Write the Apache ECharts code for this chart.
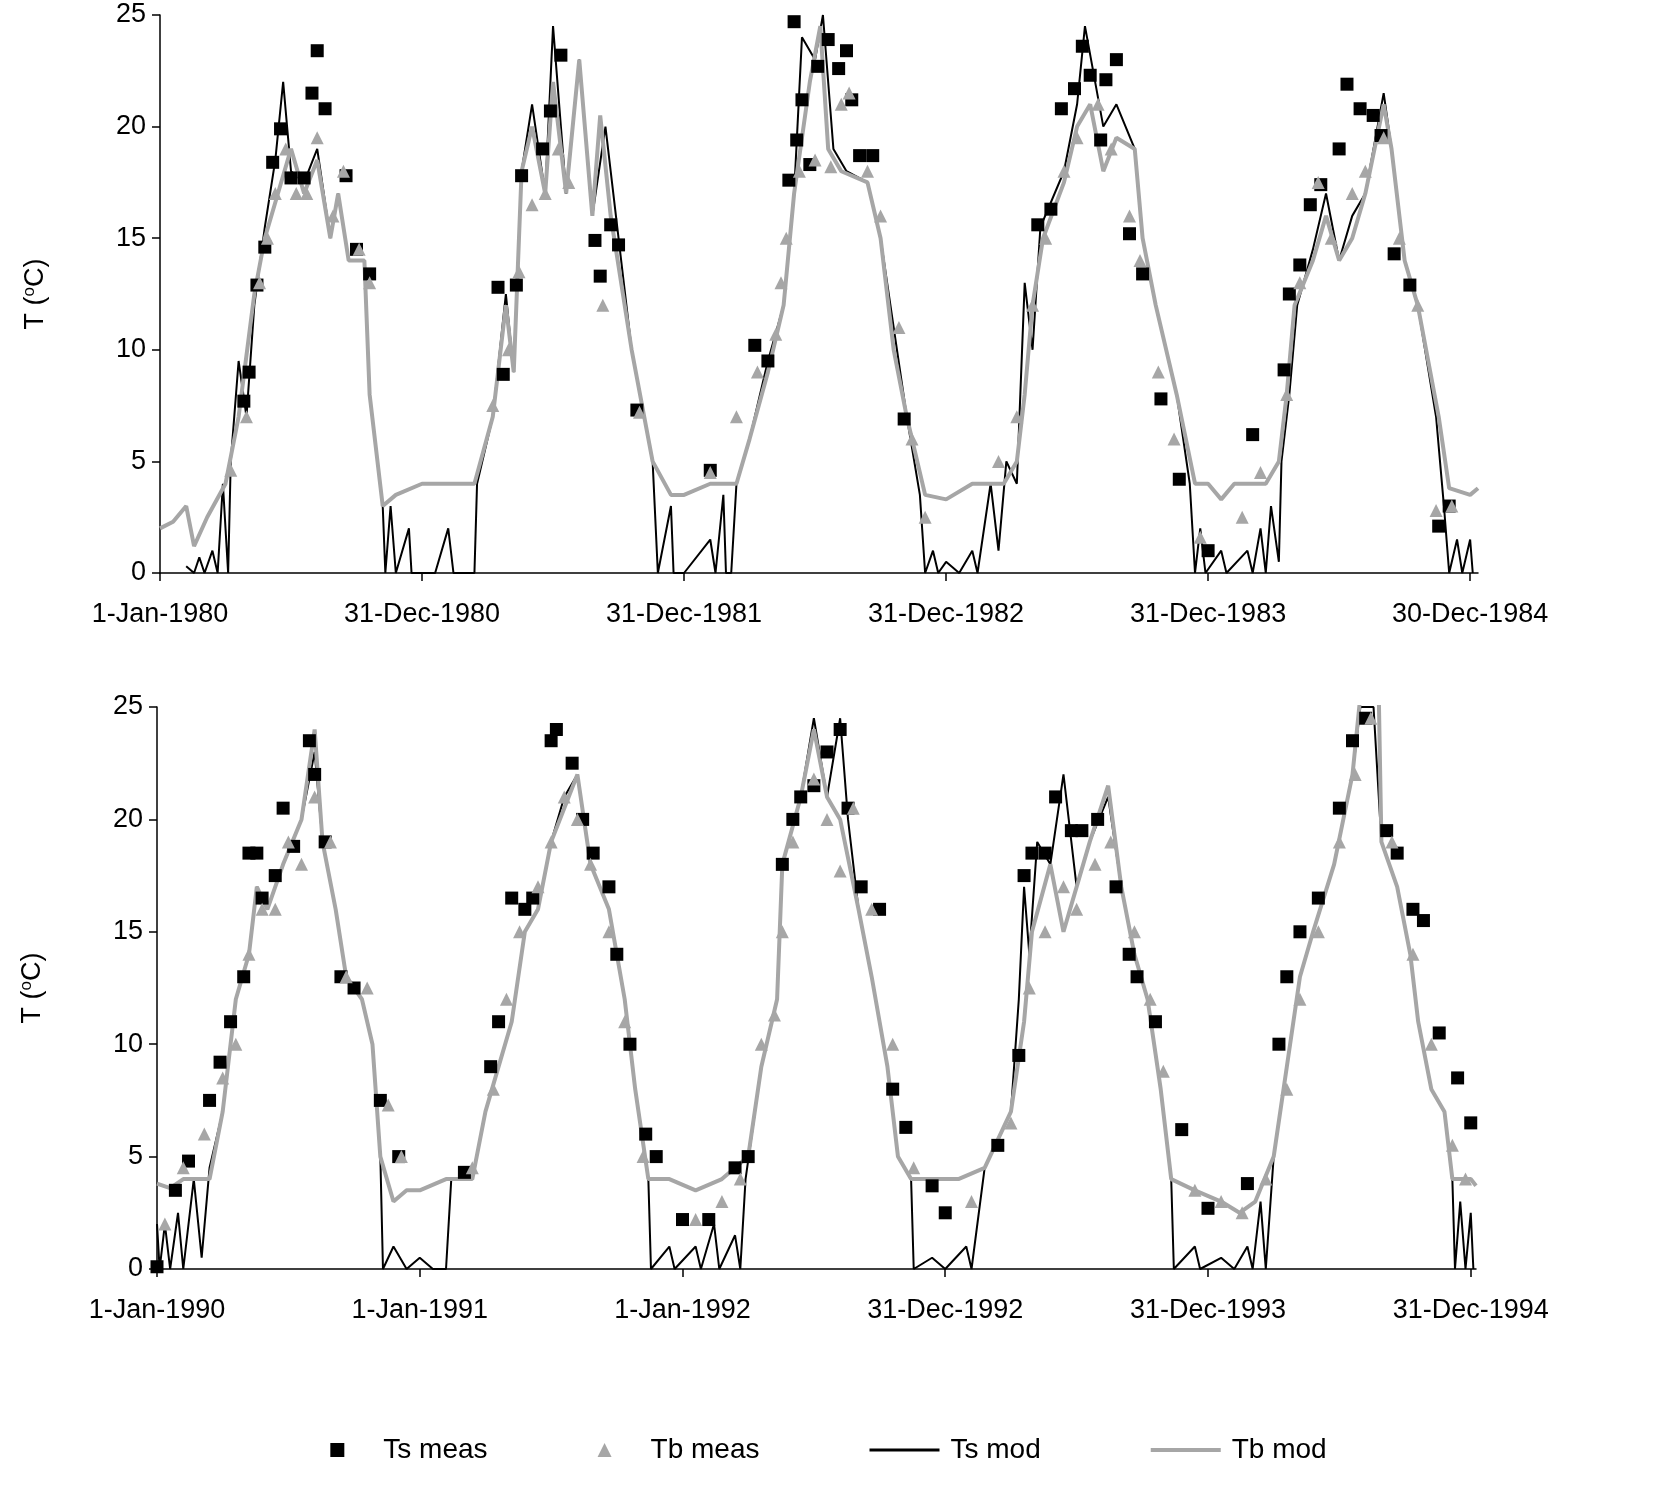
<!DOCTYPE html>
<html>
<head>
<meta charset="utf-8">
<script src="https://cdn.jsdelivr.net/npm/echarts@6/dist/echarts.min.js"></script>
<style>html,body{margin:0;padding:0;background:#fff}#chart{width:1657px;height:1489px}</style>
</head>
<body>
<div id="chart"></div>
<script>
// x values are years since the first tick of each panel
const topLabels = ['1-Jan-1980', '31-Dec-1980', '31-Dec-1981', '31-Dec-1982', '31-Dec-1983', '30-Dec-1984']
const botLabels = ['1-Jan-1990', '1-Jan-1991', '1-Jan-1992', '31-Dec-1992', '31-Dec-1993', '31-Dec-1994']

const topTbMod = [[0,2],[0.05,2.3],[0.1,3],[0.13,1.2],[0.18,2.5],[0.25,4],[0.3,7],[0.36,12.5],[0.4,15],[0.45,17],[0.5,19],[0.55,17],[0.6,18.5],[0.65,15],[0.68,17],[0.72,14],[0.78,14],[0.8,8],[0.85,3],[0.9,3.5],[1.0,4],
  [1.2,4],[1.27,7],[1.32,12],[1.35,9],[1.38,18],[1.42,20],[1.47,17],[1.5,22],[1.55,17],[1.6,23],[1.65,16],[1.68,20.5],[1.72,16],[1.8,10],[1.88,5],[1.95,3.5],[2.0,3.5],[2.1,4],[2.2,4],
  [2.25,6],[2.32,9],[2.38,12],[2.42,17],[2.48,22],[2.52,24.5],[2.55,19],[2.6,18],[2.7,17.5],[2.75,15],[2.8,10],[2.85,7],[2.92,3.5],[3.0,3.3],[3.1,4],[3.22,4],
  [3.27,5],[3.3,8],[3.33,12],[3.37,15],[3.45,17.5],[3.5,20],[3.55,21],[3.6,18],[3.65,19.5],[3.72,19],[3.75,15],[3.8,12],[3.88,8],[3.95,4],[4.0,4],[4.05,3.3],[4.1,4],[4.22,4],
  [4.27,5],[4.3,8],[4.33,12],[4.4,14],[4.45,16],[4.5,14],[4.55,15],[4.6,17],[4.67,21],[4.7,19],[4.75,14],[4.8,12],[4.88,7],[4.92,3.8],[5.0,3.5],[5.03,3.8]]

const topTsMod = [[0.1,0.3],[0.13,0],[0.15,0.7],[0.17,0],[0.2,1],[0.22,0],[0.24,4],[0.26,0],[0.27,5],[0.3,9.5],[0.33,7],[0.36,12],[0.4,15.5],[0.44,18.5],[0.47,22],[0.5,18],[0.55,17.5],[0.6,19],[0.65,15],[0.68,17],[0.72,14],[0.78,14],[0.8,8],[0.85,3],[0.86,0],[0.88,3],[0.9,0],[0.95,2],[0.96,0],[1.05,0],[1.1,2],[1.12,0],[1.2,0],[1.21,4],[1.27,7],
  [1.32,12.5],[1.35,9],[1.38,18],[1.42,21],[1.47,17],[1.5,24.5],[1.55,17],[1.6,23],[1.65,16],[1.7,20],[1.75,15],[1.8,10],[1.88,5],[1.9,0],[1.95,3],[1.96,0],[2.0,0],[2.1,1.5],[2.12,0],[2.15,3.5],[2.16,0],[2.18,0],[2.2,4],
  [2.25,6],[2.32,9.5],[2.38,12],[2.42,17],[2.45,24],[2.5,23],[2.53,25],[2.57,19],[2.62,18],[2.7,17.5],[2.75,15],[2.8,11],[2.85,7],[2.9,3.5],[2.92,0],[2.95,1],[2.97,0],[3.0,0.5],[3.05,0],[3.1,1],[3.12,0],[3.17,4],[3.2,1],[3.23,5],[3.27,4],
  [3.3,13],[3.33,10],[3.36,15.5],[3.45,18],[3.5,21],[3.53,24.5],[3.6,20],[3.65,21],[3.72,19],[3.75,15],[3.8,12],[3.88,8],[3.93,4],[3.95,0],[3.97,2],[3.99,0],[4.05,1],[4.07,0],[4.15,1],[4.17,0],[4.2,2],[4.22,0],[4.24,3],[4.27,0.5],
  [4.28,5],[4.31,8],[4.34,12],[4.4,14.5],[4.45,17],[4.5,14],[4.55,16],[4.6,17],[4.67,21.5],[4.7,19],[4.75,14],[4.8,12],[4.87,7],[4.9,3],[4.92,0],[4.95,1.5],[4.97,0],[5.0,1.5],[5.01,0]]

const topTsMeas = [[0.32,7.7],[0.34,9],[0.37,12.9],[0.4,14.6],[0.43,18.4],[0.46,19.9],[0.5,17.7],[0.55,17.7],[0.58,21.5],[0.6,23.4],[0.63,20.8],[0.71,17.8],[0.75,14.5],[0.8,13.4],
  [1.29,12.8],[1.31,8.9],[1.36,12.9],[1.38,17.8],[1.46,19],[1.49,20.7],[1.53,23.2],[1.66,14.9],[1.68,13.3],[1.72,15.6],[1.75,14.7],[1.82,7.3],
  [2.1,4.6],[2.27,10.2],[2.32,9.5],[2.4,17.6],[2.42,24.7],[2.43,19.4],[2.45,21.2],[2.48,18.3],[2.51,22.7],[2.55,23.9],[2.59,22.6],[2.62,23.4],[2.64,21.2],[2.67,18.7],[2.72,18.7],[2.84,6.9],
  [3.35,15.6],[3.4,16.3],[3.44,20.8],[3.49,21.7],[3.52,23.6],[3.55,22.3],[3.59,19.4],[3.61,22.1],[3.65,23],[3.7,15.2],[3.75,13.4],[3.82,7.8],[3.89,4.2],[4.0,1],
  [4.17,6.2],[4.29,9.1],[4.31,12.5],[4.35,13.8],[4.39,16.5],[4.43,17.4],[4.5,19],[4.53,21.9],[4.58,20.8],[4.63,20.5],[4.66,19.6],[4.71,14.3],[4.77,12.9],[4.88,2.1],[4.92,3]]

const topTbMeas = [[0.27,4.6],[0.33,7],[0.38,13],[0.41,15],[0.44,17],[0.48,19],[0.52,17],[0.56,17],[0.6,19.5],[0.66,16],[0.7,18],[0.76,14.5],[0.8,13],
  [1.27,7.5],[1.33,10],[1.37,13.5],[1.42,16.5],[1.47,17],[1.52,19],[1.56,17.5],[1.69,12],[1.83,7.2],
  [2.1,4.5],[2.2,7],[2.28,9],[2.35,10.7],[2.37,13],[2.39,15],[2.44,18],[2.5,18.5],[2.56,18.2],[2.6,21],[2.63,21.5],[2.7,18],[2.75,16],[2.82,11],[2.87,6],[2.92,2.5],
  [3.2,5],[3.27,7],[3.33,12],[3.38,15],[3.45,18],[3.5,19.5],[3.58,21],[3.63,19],[3.7,16],[3.74,14],[3.81,9],[3.87,6],[3.97,1.6],
  [4.13,2.5],[4.2,4.5],[4.3,8],[4.35,13],[4.42,17.5],[4.47,15],[4.55,17],[4.6,18],[4.67,19.5],[4.73,15],[4.8,12],[4.87,2.8],[4.93,3]]

const botTbMod = [[0,3.8],[0.05,3.6],[0.1,4],[0.2,4],[0.25,7],[0.3,12],[0.35,14],[0.38,17],[0.42,16],[0.48,18],[0.55,20],[0.6,24],[0.63,19],[0.68,16],[0.72,13],[0.78,12],[0.82,10],[0.85,5],[0.9,3],[0.95,3.5],[1.0,3.5],[1.1,4],[1.2,4],
  [1.25,7],[1.3,9],[1.35,11],[1.4,15],[1.45,16],[1.5,19],[1.55,20.5],[1.6,22],[1.65,18],[1.72,16],[1.78,12],[1.82,8],[1.87,4],[1.95,4],[2.05,3.5],[2.15,4],[2.25,5],
  [2.3,9],[2.36,12],[2.38,18],[2.45,21],[2.5,24],[2.55,21],[2.6,20],[2.67,16],[2.72,13],[2.78,9],[2.82,5],[2.87,4],[2.95,4],[3.05,4],[3.15,4.5],
  [3.25,7],[3.3,11],[3.33,15],[3.4,18],[3.45,15],[3.5,17],[3.55,19],[3.62,21.5],[3.67,17],[3.72,14],[3.77,12],[3.82,8],[3.86,4],[3.95,3.5],[4.05,3],[4.12,2.5],[4.18,3],
  [4.25,5],[4.3,9],[4.35,13],[4.4,15],[4.48,18],[4.55,22],[4.58,25.5],[4.65,25.5],[4.66,19],[4.72,17],[4.77,14],[4.8,11],[4.85,8],[4.9,7],[4.93,4],[5.0,4],[5.02,3.7]]

const botTsMod = [[0,2],[0.01,0],[0.03,2],[0.05,0],[0.08,2.5],[0.1,0],[0.14,4],[0.17,0.5],[0.2,4.5],[0.25,7],[0.3,12],[0.35,14],[0.38,17],[0.42,16],[0.48,18],[0.55,20],[0.6,23],[0.63,19],[0.68,16],[0.72,13],[0.78,12],[0.82,10],[0.85,5],[0.86,0],[0.9,1],[0.95,0],[1.0,0.5],[1.05,0],[1.1,0],[1.12,4],[1.2,4],
  [1.25,7],[1.3,9],[1.35,11],[1.4,15],[1.45,16],[1.5,19],[1.55,21],[1.6,22],[1.65,18],[1.72,16],[1.78,12],[1.82,8],[1.87,4],[1.88,0],[1.95,1],[1.97,0],[2.05,1],[2.07,0],[2.12,2],[2.14,0],[2.2,1.5],[2.22,0],[2.24,4],
  [2.3,9],[2.36,12],[2.38,18],[2.45,21],[2.5,24.5],[2.55,21],[2.6,24.5],[2.63,20],[2.67,16],[2.72,13],[2.78,9],[2.82,5],[2.87,4],[2.88,0],[2.95,0.5],[3.0,0],[3.08,1],[3.1,0],[3.15,4.5],
  [3.25,7],[3.28,12],[3.3,17],[3.32,14],[3.35,19],[3.4,18],[3.45,22],[3.5,17],[3.55,19],[3.62,21],[3.67,17],[3.72,14],[3.77,12],[3.82,8],[3.86,4],[3.87,0],[3.95,1],[3.97,0],[4.05,0.5],[4.1,0],[4.15,1],[4.17,0],[4.2,3],[4.22,0],
  [4.25,5],[4.3,9],[4.35,13],[4.4,15],[4.48,18],[4.55,22],[4.58,25],[4.63,25],[4.66,19],[4.72,17],[4.77,14],[4.8,11],[4.85,8],[4.9,7],[4.93,4],[4.94,0],[4.96,3],[4.98,0],[5.0,2.5],[5.01,0]]

const botTsMeas = [[0,0.1],[0.07,3.5],[0.12,4.8],[0.2,7.5],[0.24,9.2],[0.28,11],[0.33,13],[0.35,18.5],[0.38,18.5],[0.4,16.5],[0.45,17.5],[0.48,20.5],[0.52,18.8],[0.58,23.5],[0.6,22],[0.64,19],[0.7,13],[0.75,12.5],[0.85,7.5],[0.92,5],
  [1.17,4.3],[1.27,9],[1.3,11],[1.35,16.5],[1.4,16],[1.43,16.5],[1.5,23.5],[1.52,24],[1.58,22.5],[1.62,20],[1.66,18.5],[1.72,17],[1.75,14],[1.8,10],[1.86,6],[1.9,5],
  [2.0,2.2],[2.1,2.2],[2.2,4.5],[2.25,5],[2.38,18],[2.42,20],[2.45,21],[2.5,21.5],[2.55,23],[2.6,24],[2.63,20.5],[2.68,17],[2.75,16],[2.8,8],[2.85,6.3],[2.95,3.7],[3.0,2.5],
  [3.2,5.5],[3.28,9.5],[3.3,17.5],[3.33,18.5],[3.38,18.5],[3.42,21],[3.48,19.5],[3.52,19.5],[3.58,20],[3.65,17],[3.7,14],[3.73,13],[3.8,11],[3.9,6.2],[4.0,2.7],
  [4.15,3.8],[4.27,10],[4.3,13],[4.35,15],[4.42,16.5],[4.5,20.5],[4.55,23.5],[4.6,24.5],[4.68,19.5],[4.72,18.5],[4.78,16],[4.82,15.5],[4.88,10.5],[4.95,8.5],[5.0,6.5]]

const botTbMeas = [[0.03,2],[0.1,4.5],[0.18,6],[0.25,8.5],[0.3,10],[0.35,14],[0.4,16],[0.45,16],[0.5,19],[0.55,18],[0.6,21],[0.66,19],[0.72,13],[0.8,12.5],[0.88,7.3],[0.93,5],
  [1.2,4.5],[1.28,8],[1.33,12],[1.38,15],[1.45,17],[1.5,19],[1.55,21],[1.6,20],[1.65,18],[1.72,15],[1.78,11],[1.85,5],
  [2.05,2.2],[2.15,3],[2.22,4],[2.3,10],[2.35,11.3],[2.38,15],[2.42,19],[2.5,21.8],[2.55,20],[2.6,17.7],[2.65,20.5],[2.72,16],[2.8,10],[2.88,4.5],
  [3.1,3],[3.25,6.5],[3.32,12.5],[3.38,15],[3.45,17],[3.5,16],[3.57,18],[3.63,19],[3.72,15],[3.78,12],[3.83,8.8],[3.95,3.5],[4.05,3],[4.13,2.5],
  [4.22,4],[4.3,8],[4.35,12],[4.42,15],[4.5,19],[4.56,22],[4.62,24.5],[4.7,19],[4.78,14],[4.85,10],[4.93,5.5],[4.98,4]]

const BLACK = '#000'
const GREY = '#a6a6a6'
const FONT = 'Liberation Sans'

const chart = echarts.init(document.getElementById('chart'))

function xAxis(idx, labels, max) {
  return {
    type: 'value', gridIndex: idx, min: 0, max: max, interval: 1,
    axisLine: { onZero: false, lineStyle: { color: BLACK, width: 1.5 } },
    axisTick: { length: 8, lineStyle: { color: BLACK, width: 1.5 } },
    splitLine: { show: false },
    axisLabel: { color: BLACK, fontSize: 27, fontFamily: FONT, margin: 28,
      formatter: v => labels[Math.round(v)] || '', showMaxLabel: false }
  }
}
function yAxis(idx) {
  return {
    type: 'value', gridIndex: idx, min: 0, max: 25, interval: 5,
    name: '{n|T (}{s|o}{n|C)}', nameLocation: 'middle', nameGap: 110, nameRotate: 90,
    nameTextStyle: { rich: { n: { fontSize: 27, fontFamily: FONT, color: BLACK }, s: { fontSize: 17, fontFamily: FONT, color: BLACK, verticalAlign: 'top', padding: [0, 0, 12, 0] } } },
    axisLine: { show: true, lineStyle: { color: BLACK, width: 1.5 } },
    axisTick: { show: true, length: 8, lineStyle: { color: BLACK, width: 1.5 } },
    splitLine: { show: false },
    axisLabel: { color: BLACK, fontSize: 27, fontFamily: FONT, margin: 14 }
  }
}
function panel(idx, tsMeas, tbMeas, tsMod, tbMod) {
  return [
    { name: 'Ts mod', type: 'line', xAxisIndex: idx, yAxisIndex: idx, data: tsMod, symbol: 'none', lineStyle: { color: BLACK, width: 2 }, itemStyle: { color: BLACK }, z: 2 },
    { name: 'Tb mod', type: 'line', xAxisIndex: idx, yAxisIndex: idx, data: tbMod, symbol: 'none', lineStyle: { color: GREY, width: 4 }, itemStyle: { color: GREY }, z: 3 },
    { name: 'Ts meas', type: 'scatter', xAxisIndex: idx, yAxisIndex: idx, data: tsMeas, symbol: 'rect', symbolSize: 13, itemStyle: { color: BLACK, opacity: 1 }, z: 4 },
    { name: 'Tb meas', type: 'scatter', xAxisIndex: idx, yAxisIndex: idx, data: tbMeas, symbol: 'triangle', symbolSize: 13, itemStyle: { color: GREY, opacity: 1 }, z: 5 }
  ]
}

chart.setOption({
  backgroundColor: '#fff',
  animation: false,
  grid: [
    { left: 160, top: 15, width: 1318, height: 558 },
    { left: 157, top: 707, width: 1319, height: 562 }
  ],
  xAxis: [xAxis(0, topLabels, 5.03), xAxis(1, botLabels, 5.02)],
  yAxis: [yAxis(0), yAxis(1)],
  legend: {
    bottom: 20, left: 'center', itemGap: 110, itemWidth: 70, itemHeight: 14,
    symbolKeepAspect: true,
    textStyle: { fontSize: 28, fontFamily: FONT, color: BLACK, padding: [0, 0, 0, 6] },
    data: [
      { name: 'Ts meas', icon: 'path://M0,0h10v10h-10z', itemStyle: { color: BLACK } },
      { name: 'Tb meas', icon: 'path://M5,0L10,10L0,10z', itemStyle: { color: GREY } },
      { name: 'Ts mod', icon: 'path://M0,0h70v3h-70z', itemStyle: { color: BLACK } },
      { name: 'Tb mod', icon: 'path://M0,0h70v4h-70z', itemStyle: { color: GREY } }
    ]
  },
  series: [
    ...panel(0, topTsMeas, topTbMeas, topTsMod, topTbMod),
    ...panel(1, botTsMeas, botTbMeas, botTsMod, botTbMod)
  ]
})
</script>
</body>
</html>
